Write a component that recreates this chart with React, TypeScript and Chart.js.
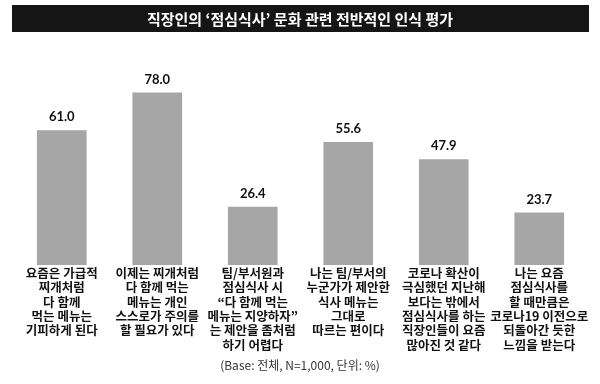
import React, { useEffect, useRef } from "react";
import { Chart, registerables } from "chart.js";

Chart.register(...registerables);

const titleText = "직장인의 ‘점심식사’ 문화 관련 전반적인 인식 평가";
const footnote = "(Base: 전체, N=1,000, 단위: %)";

const categories: string[][] = [
  ["요즘은 가급적", "찌개처럼", "다 함께", "먹는 메뉴는", "기피하게 된다"],
  ["이제는 찌개처럼", "다 함께 먹는", "메뉴는 개인", "스스로가 주의를", "할 필요가 있다"],
  ["팀/부서원과", "점심식사 시", "“다 함께 먹는", "메뉴는 지양하자”", "는 제안을 좀처럼", "하기 어렵다"],
  ["나는 팀/부서의", "누군가가 제안한", "식사 메뉴는", "그대로", "따르는 편이다"],
  ["코로나 확산이", "극심했던 지난해", "보다는 밖에서", "점심식사를 하는", "직장인들이 요즘", "많아진 것 같다"],
  ["나는 요즘", "점심식사를", "할 때만큼은", "코로나19 이전으로", "되돌아간 듯한", "느낌을 받는다"],
];

const values: number[] = [61.0, 78.0, 26.4, 55.6, 47.9, 23.7];

const KFONT = "'Noto Sans CJK KR', 'Noto Sans', sans-serif";

const decorPlugin = {
  id: "decor",
  beforeDraw(chart: any) {
    const ctx = chart.ctx;
    ctx.save();
    ctx.fillStyle = "#ffffff";
    ctx.fillRect(0, 0, chart.width, chart.height);
    ctx.fillStyle = "#151515";
    ctx.fillRect(12, 5, 577, 27);
    ctx.fillStyle = "#ffffff";
    ctx.font = `bold 15px ${KFONT}`;
    ctx.textAlign = "center";
    ctx.textBaseline = "middle";
    ctx.fillText(titleText, 300, 19);
    ctx.fillStyle = "#333333";
    ctx.font = `12px ${KFONT}`;
    ctx.fillText(footnote, 300, 365);
    ctx.restore();
  },
  afterDatasetsDraw(chart: any) {
    const ctx = chart.ctx;
    const meta = chart.getDatasetMeta(0);
    ctx.save();
    ctx.fillStyle = "#111111";
    ctx.font = "bold 13px Lato, 'Open Sans', sans-serif";
    ctx.textAlign = "center";
    ctx.textBaseline = "middle";
    meta.data.forEach((bar: any, i: number) => {
      ctx.fillText(values[i].toFixed(1), bar.x, bar.y - 13);
    });
    ctx.restore();
  },
};

export default function App() {
  const ref = useRef<HTMLCanvasElement | null>(null);
  useEffect(() => {
    document.body.style.margin = "0";
    if (!ref.current) return;
    const chart = new Chart(ref.current, {
      type: "bar",
      data: {
        labels: categories,
        datasets: [
          {
            data: values,
            backgroundColor: "#a6a6a6",
            borderWidth: 0,
            categoryPercentage: 1,
            barPercentage: 0.52,
          },
        ],
      },
      options: {
        animation: false,
        responsive: false,
        maintainAspectRatio: false,
        layout: { padding: { left: 14, right: 13, top: 44, bottom: 0 } },
        plugins: {
          legend: { display: false },
          title: { display: false },
          tooltip: { enabled: false },
        },
        scales: {
          x: {
            grid: { display: false, drawTicks: false },
            border: { display: false },
            ticks: {
              color: "#111111",
              font: { family: KFONT, size: 12.5, weight: "bold", lineHeight: 1.15 },
              padding: 1,
              maxRotation: 0,
              autoSkip: false,
            },
            afterFit: (scale: any) => {
              scale.height = 119;
            },
          },
          y: {
            display: false,
            min: 0,
            max: 100,
          },
        },
      },
      plugins: [decorPlugin],
    });
    return () => chart.destroy();
  }, []);
  return (
    <div style={{ width: 600, height: 384 }}>
      <canvas ref={ref} width={600} height={384} style={{ width: 600, height: 384, display: "block" }} />
    </div>
  );
}
